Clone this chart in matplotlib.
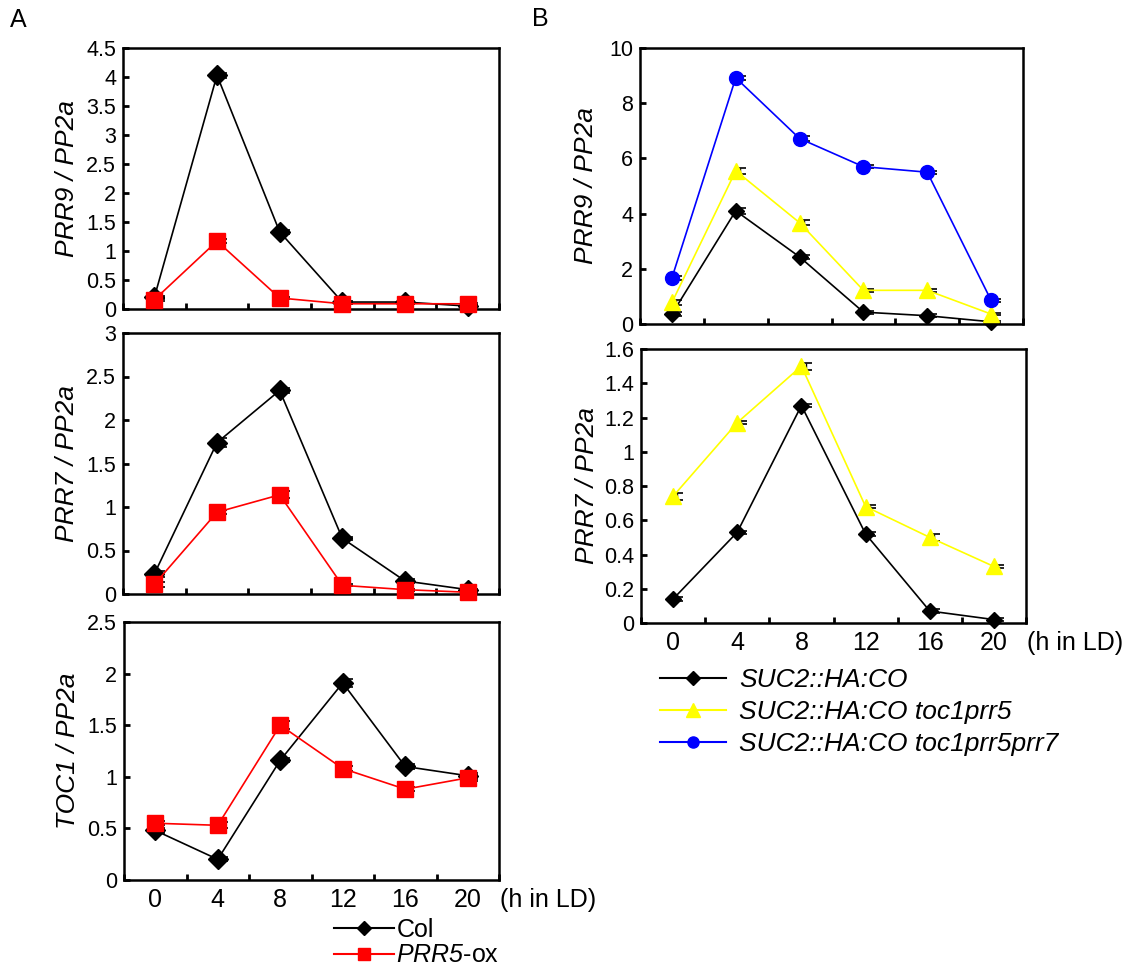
import matplotlib
matplotlib.use("Agg")
import matplotlib.pyplot as plt
from matplotlib.transforms import ScaledTranslation
from matplotlib.lines import Line2D
from matplotlib.ticker import FuncFormatter

plt.rcParams['font.family'] = ['Liberation Sans', 'DejaVu Sans']
plt.rcParams['mathtext.fontset'] = 'custom'
plt.rcParams['mathtext.rm'] = 'Liberation Sans'
plt.rcParams['mathtext.sf'] = 'Liberation Sans:italic'  # italic digits too

hours = [0, 4, 8, 12, 16, 20]
boundaries = [-2, 2, 6, 10, 14, 18, 22]

# panel A (Col vs PRR5-ox)
prr9Col = [0.2, 4.03, 1.33, 0.12, 0.12, 0.05]
prr9ColErr = [0.02, 0.04, 0.04, 0.02, 0.02, 0.02]
prr9Ox = [0.16, 1.17, 0.19, 0.09, 0.09, 0.09]
prr9OxErr = [0.03, 0.04, 0.02, 0.01, 0.01, 0.02]

prr7Col = [0.23, 1.74, 2.34, 0.64, 0.15, 0.05]
prr7ColErr = [0.03, 0.05, 0.03, 0.02, 0.02, 0.01]
prr7Ox = [0.11, 0.94, 1.14, 0.1, 0.05, 0.02]
prr7OxErr = [0.03, 0.02, 0.04, 0.01, 0.01, 0.01]

toc1Col = [0.48, 0.2, 1.16, 1.91, 1.1, 1.01]
toc1ColErr = [0.02, 0.02, 0.02, 0.04, 0.02, 0.03]
toc1Ox = [0.55, 0.53, 1.5, 1.08, 0.88, 0.99]
toc1OxErr = [0.02, 0.03, 0.04, 0.02, 0.02, 0.03]

# panel B (SUC2::HA:CO lines)
bPrr9Co = [0.36, 4.1, 2.43, 0.43, 0.3, 0.08]
bPrr9CoErr = [0.08, 0.1, 0.08, 0.05, 0.05, 0.03]
bPrr9T5 = [0.78, 5.55, 3.67, 1.22, 1.22, 0.36]
bPrr9T5Err = [0.08, 0.1, 0.1, 0.05, 0.05, 0.05]
bPrr9T57 = [1.67, 8.92, 6.72, 5.7, 5.5, 0.86]
bPrr9T57Err = [0.06, 0.08, 0.1, 0.05, 0.06, 0.05]

bPrr7Co = [0.14, 0.53, 1.27, 0.52, 0.07, 0.02]
bPrr7CoErr = [0.01, 0.01, 0.01, 0.01, 0.01, 0.01]
bPrr7T5 = [0.74, 1.17, 1.5, 0.68, 0.5, 0.33]
bPrr7T5Err = [0.02, 0.01, 0.02, 0.01, 0.02, 0.01]

FIG_W, FIG_H = 1122, 971
fig = plt.figure(figsize=(FIG_W / 100, FIG_H / 100), dpi=100)


def makeAxes(left, top, right, bottom):
    return fig.add_axes([left / FIG_W, 1 - bottom / FIG_H,
                         (right - left) / FIG_W, (bottom - top) / FIG_H])


def styleAxes(ax, ymax, ystep, showX, labelX):
    ax.set_xlim(-2, 22)
    ax.set_ylim(0, ymax)
    ax.set_xticks(boundaries)
    ax.set_xticklabels([])
    ax.tick_params(axis='x', which='major', direction='in', length=4, width=2)
    if showX:
        ax.set_xticks(hours, minor=True)
        ax.set_xticklabels([str(h) for h in hours], minor=True)
        ax.tick_params(axis='x', which='minor', length=0, pad=6, labelsize=18)
        ax.annotate('(h in LD)', xy=(1, 0), xycoords='axes fraction',
                    xytext=(1, -6), textcoords='offset points',
                    va='top', ha='left', fontsize=18)
    yt = [i * ystep for i in range(int(round(ymax / ystep)) + 1)]
    ax.set_yticks(yt)
    ax.yaxis.set_major_formatter(FuncFormatter(lambda v, p: '{:g}'.format(round(v, 2))))
    ax.tick_params(axis='y', direction='in', length=4, width=2, labelsize=15.5, pad=5)
    for s in ax.spines.values():
        s.set_linewidth(1.8)
    ax.set_ylabel(labelX, fontsize=19, fontstyle='italic')


def series(ax, y, err, color, marker, ms, mec=None):
    shift = ax.transData + ScaledTranslation(3 / 72, 0, fig.dpi_scale_trans)
    ax.errorbar(hours, y, yerr=err, fmt='none', ecolor='black', elinewidth=1,
                capsize=4, capthick=1.2, transform=shift, zorder=2)
    ax.plot(hours, y, color=color, marker=marker, markersize=ms, lw=1.2,
            markeredgecolor=mec or color, zorder=3, clip_on=False)


# --- panel A
a1 = makeAxes(123, 48, 499, 309)
styleAxes(a1, 4.5, 0.5, False, 'PRR9 / PP2a')
series(a1, prr9Col, prr9ColErr, 'black', 'D', 10.5)
series(a1, prr9Ox, prr9OxErr, 'red', 's', 12)

a2 = makeAxes(123, 333, 499, 594)
styleAxes(a2, 3, 0.5, False, 'PRR7 / PP2a')
series(a2, prr7Col, prr7ColErr, 'black', 'D', 10.5)
series(a2, prr7Ox, prr7OxErr, 'red', 's', 12)

a3 = makeAxes(124, 622, 499, 880)
styleAxes(a3, 2.5, 0.5, True, 'TOC1 / PP2a')
series(a3, toc1Col, toc1ColErr, 'black', 'D', 10.5)
series(a3, toc1Ox, toc1OxErr, 'red', 's', 12)

for ax in (a1, a2, a3):
    ax.yaxis.set_label_coords(-0.118, 0.5)

# --- panel B
b1 = makeAxes(640, 48, 1023, 324)
styleAxes(b1, 10, 2, False, 'PRR9 / PP2a')
series(b1, bPrr9Co, bPrr9CoErr, 'black', 'D', 8)
series(b1, bPrr9T5, bPrr9T5Err, '#ffff00', '^', 11)
series(b1, bPrr9T57, bPrr9T57Err, '#0000ff', 'o', 10)

b2 = makeAxes(641, 349, 1026, 623)
styleAxes(b2, 1.6, 0.2, True, 'PRR7 / PP2a')
series(b2, bPrr7Co, bPrr7CoErr, 'black', 'D', 8)
series(b2, bPrr7T5, bPrr7T5Err, '#ffff00', '^', 11)

for ax in (b1, b2):
    ax.yaxis.set_label_coords(-0.11, 0.5)

fig.text(10 / FIG_W, 1 - 20 / FIG_H, 'A', fontsize=18, va='center', ha='left')
fig.text(532 / FIG_W, 1 - 19 / FIG_H, 'B', fontsize=18, va='center', ha='left')

# legends
legA = [Line2D([], [], color='black', marker='D', markersize=7, lw=1.5),
        Line2D([], [], color='red', marker='s', markersize=9, lw=1.5)]
fig.legend(legA, ['Col', r'$\mathsf{PRR5}$-ox'], loc='upper left',
           bbox_to_anchor=(334 / FIG_W, 1 - 918 / FIG_H), frameon=False,
           fontsize=18, handlelength=2.4, handletextpad=0.1, labelspacing=0.05,
           borderpad=0, borderaxespad=0)

legB = [Line2D([], [], color='black', marker='D', markersize=7, lw=1.5),
        Line2D([], [], color='#ffff00', marker='^', markersize=10, lw=1.5),
        Line2D([], [], color='#0000ff', marker='o', markersize=8, lw=1.5)]
fig.legend(legB, ['SUC2::HA:CO', 'SUC2::HA:CO toc1prr5', 'SUC2::HA:CO toc1prr5prr7'],
           loc='upper left', bbox_to_anchor=(660 / FIG_W, 1 - 668 / FIG_H),
           frameon=False, prop={'size': 19, 'style': 'italic'},
           handlelength=2.5, handletextpad=0.5, labelspacing=0.3,
           borderpad=0, borderaxespad=0)

fig.savefig('out.png', dpi=100)
